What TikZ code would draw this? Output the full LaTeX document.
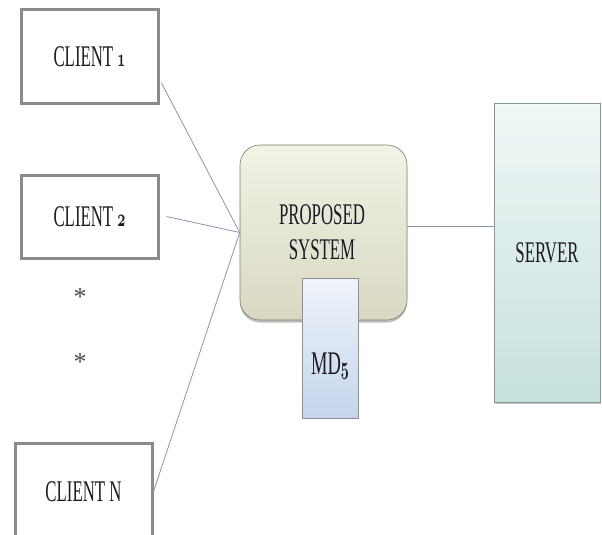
\documentclass[tikz,border=0pt]{standalone}
\usepackage{graphicx}
\usepackage{fontspec}
\setmainfont{Liberation Serif}
\usetikzlibrary{shadows}
\definecolor{boxgray}{HTML}{8C8A8C}
\definecolor{wire}{HTML}{8A96AC}
\definecolor{inkc}{HTML}{1C1A22}
\definecolor{psTop}{HTML}{F2F2E6}
\definecolor{psBot}{HTML}{D8D8C2}
\definecolor{psLine}{HTML}{7C7C6C}
\definecolor{mdTop}{HTML}{F0F4FA}
\definecolor{mdBot}{HTML}{C4D5EC}
\definecolor{svTop}{HTML}{F0F7F7}
\definecolor{svBot}{HTML}{C6E1DC}
\definecolor{panelLine}{HTML}{8A9494}
\newcommand\narrowtxt[1]{\scalebox{0.56}[1]{#1}}
% old-style digits taken from the math italic font
\newcommand\osdigit[1]{{\usefont{OML}{cmm}{b}{it}#1}}
\tikzset{
  client/.style={draw=boxgray, line width=3pt, fill=white, minimum width=137pt,
    inner sep=0pt, text=inkc, font=\fontsize{30}{34}\selectfont},
  wireline/.style={draw=wire, line width=0.8pt},
  lbl/.style={text=inkc, inner sep=0pt, font=\fontsize{30}{35}\selectfont, align=center},
  star/.style={text=black!70, font=\fontsize{26}{26}\selectfont, inner sep=0pt},
}
\begin{document}
\begin{tikzpicture}[x=1pt,y=-1pt]
\useasboundingbox (0,0) rectangle (602,535);
\begin{scope}
\clip (0,0) rectangle (602,535);

% clients
\node[client, minimum height=93pt] (c1) at (89.5,56.5)
  {\narrowtxt{CLIENT \osdigit{1}}};
\node[client, minimum height=83pt] (c2) at (89.5,216.5)
  {\narrowtxt{CLIENT \osdigit{2}}};
\node[client, minimum height=97pt] (cN) at (83.5,491.5)
  {\narrowtxt{CLIENT N}};

% ellipsis between clients
\node[star] (d1) at (80,297) {*};
\node[star] (d2) at (80,362) {*};

% server
\node[draw=panelLine, line width=0.6pt, top color=svTop, bottom color=svBot,
  minimum width=106pt, minimum height=299pt, inner sep=0pt,
  drop shadow={shadow xshift=0.5pt, shadow yshift=-2pt, opacity=0.45}]
  (sv) at (547,252.5) {};
\node[lbl] (svt) at (sv.center) {\narrowtxt{SERVER}};

% proposed system
\node[draw=psLine, line width=0.6pt, rounded corners=20pt,
  top color=psTop, bottom color=psBot,
  minimum width=167pt, minimum height=175pt, inner sep=0pt,
  drop shadow={shadow xshift=0pt, shadow yshift=-2.5pt, opacity=0.5}]
  (ps) at (323.5,232.5) {};
\node[lbl] (pst) at (322,232.5) {\narrowtxt{PROPOSED}\\\narrowtxt{SYSTEM}};

% MD5 module
\node[draw=panelLine, line width=0.6pt, top color=mdTop, bottom color=mdBot,
  minimum width=56pt, minimum height=140pt, inner sep=0pt]
  (md) at (330,348) {};
\node[lbl, font=\fontsize{33}{33}\selectfont] (mdt) at (330,366)
  {\narrowtxt{MD\osdigit{5}}};

% connectors
\draw[wireline] ([shift={(2pt,-26.5pt)}]c1.east) -- (ps.west);
\draw[wireline] ([xshift=7pt]c2.east) -- (ps.west);
\draw[wireline] (cN.east) -- (ps.west);
\draw[wireline] ([yshift=6pt]ps.east) -- ([yshift=6pt]ps.east -| sv.west);
\end{scope}
\end{tikzpicture}
\end{document}
